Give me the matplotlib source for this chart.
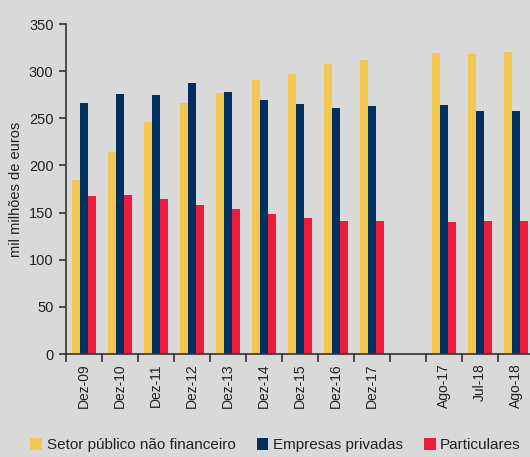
import numpy as np
import matplotlib.pyplot as plt
from matplotlib.patches import Patch

# ---------- Dados ----------
categorias = ["Dez-09", "Dez-10", "Dez-11", "Dez-12", "Dez-13", "Dez-14", "Dez-15",
              "Dez-16", "Dez-17", "", "Ago-17", "Jul-18", "Ago-18"]
setor_publico = [184.5, 214, 246, 266, 277, 290.5, 297, 307.5, 312, np.nan, 319, 318, 320]
empresas = [266, 275.5, 274.5, 287.5, 278, 269.5, 265, 261, 263.5, np.nan, 264.5, 257.5, 257.5]
particulares = [167.5, 168.5, 164, 158, 153.5, 148, 144.5, 141.5, 141, np.nan, 140.5, 141.5, 141.5]

series = ["Setor público não financeiro", "Empresas privadas", "Particulares"]
cores = ["#F3C752", "#00305F", "#ED1C3C"]

plt.rcParams["font.family"] = ["Liberation Sans", "DejaVu Sans"]
BG = "#D9D9D9"

fig = plt.figure(figsize=(5.30, 4.57), dpi=100, facecolor=BG)
ax = fig.add_axes([66 / 530, 103 / 457, 468 / 530, 330 / 457], facecolor=BG)

x = np.arange(len(categorias)) + 0.5
w = 8 / 36
for i, (vals, cor) in enumerate(zip([setor_publico, empresas, particulares], cores)):
    ax.bar(x + (i - 1) * w, vals, width=w, color=cor, linewidth=0)

ax.set_xlim(0, len(categorias))
ax.set_ylim(0, 350)
ax.set_yticks(range(0, 351, 50))

ax.set_xticks(np.arange(len(categorias) + 1))
ax.set_xticklabels([])
ax.set_xticks(x, minor=True)
ax.set_xticklabels(categorias, minor=True, rotation=90, fontsize=10, color="#222222")
ax.tick_params(axis="x", which="major", length=6, width=1.2, color="#333333")
ax.tick_params(axis="x", which="minor", length=0, pad=7)
ax.tick_params(axis="y", length=5, width=1.2, color="#333333", labelsize=10.5,
               labelcolor="#222222", pad=4)

for s in ["top", "right"]:
    ax.spines[s].set_visible(False)
for s in ["left", "bottom"]:
    ax.spines[s].set_color("#333333")
    ax.spines[s].set_linewidth(1.2)

ax.set_ylabel("mil milhões de euros", fontsize=10.5, color="#222222", labelpad=4)

handles = [Patch(facecolor=c, edgecolor="none") for c in cores]
fig.legend(handles, series, loc="lower center", ncol=3, frameon=False,
           bbox_to_anchor=(0.52, -0.02), fontsize=11, handlelength=0.75,
           handleheight=0.75, handletextpad=0.3, columnspacing=1.4,
           labelcolor="#222222")

fig.savefig("out.png", dpi=100, facecolor=BG)
